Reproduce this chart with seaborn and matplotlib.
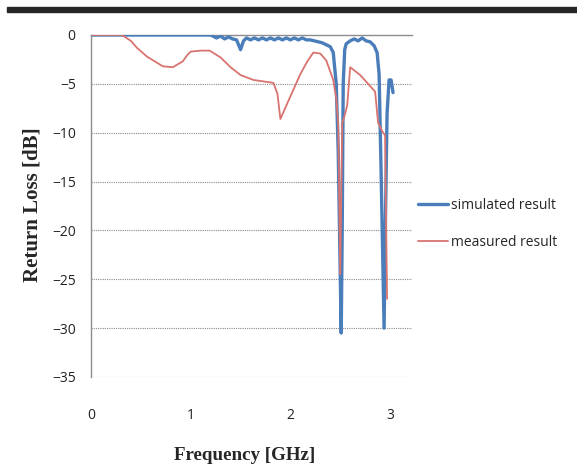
"""
Return loss of the antenna: simulated vs. measured S11 over frequency.
"""
import numpy as np
import pandas as pd
import matplotlib
matplotlib.use("Agg")
import matplotlib.pyplot as plt
import seaborn as sns
from matplotlib.patches import Rectangle

# simulated result (GHz, dB)
sim_freq = [0.0, 0.5, 1.0, 1.20, 1.26, 1.30, 1.34, 1.38, 1.42, 1.46, 1.50, 1.53,
            1.56, 1.60, 1.64, 1.68, 1.72, 1.76, 1.80, 1.84, 1.88, 1.92, 1.96,
            2.00, 2.04, 2.08, 2.12, 2.16, 2.20, 2.24, 2.28, 2.32, 2.36, 2.40,
            2.43, 2.46, 2.48, 2.51, 2.52, 2.53, 2.545, 2.56, 2.60, 2.64, 2.68,
            2.72, 2.76, 2.80, 2.84, 2.87, 2.89, 2.91, 2.94, 2.955, 2.97, 2.99,
            3.01, 3.03]
sim_db = [0, 0, 0, 0, -0.3, -0.1, -0.4, -0.2, -0.4, -0.5, -1.5, -0.6,
          -0.3, -0.5, -0.3, -0.5, -0.3, -0.5, -0.3, -0.5, -0.3, -0.5, -0.3,
          -0.5, -0.3, -0.5, -0.3, -0.5, -0.5, -0.6, -0.7, -0.8, -1.0, -1.2,
          -1.8, -5.0, -12.0, -30.5, -20.0, -5.0, -1.5, -0.9, -0.6, -0.4, -0.6,
          -0.3, -0.6, -0.7, -1.1, -1.8, -4.0, -14.0, -30.0, -18.0, -8.0, -4.6,
          -4.6, -5.9]

# measured result (GHz, dB)
meas_freq = [0.0, 0.31, 0.40, 0.46, 0.56, 0.72, 0.82, 0.92, 0.97, 1.00, 1.10,
             1.19, 1.30, 1.40, 1.50, 1.63, 1.83, 1.87, 1.90, 1.96, 2.03, 2.10,
             2.17, 2.23, 2.30, 2.36, 2.43, 2.46, 2.48, 2.50, 2.52, 2.54, 2.57,
             2.60, 2.65, 2.70, 2.78, 2.85, 2.88, 2.92, 2.95, 2.97]
meas_db = [0, 0, -0.6, -1.3, -2.2, -3.2, -3.3, -2.7, -2.0, -1.7, -1.6,
           -1.6, -2.3, -3.3, -4.1, -4.6, -4.9, -6.0, -8.6, -7.2, -5.6, -4.0,
           -2.7, -1.8, -1.9, -2.6, -4.6, -6.5, -9.0, -24.5, -9.0, -8.4, -7.2,
           -3.3, -3.7, -4.1, -5.0, -5.8, -9.0, -9.8, -10.3, -27.0]

df = pd.concat([
    pd.DataFrame({"freq": sim_freq, "db": sim_db, "series": "simulated result"}),
    pd.DataFrame({"freq": meas_freq, "db": meas_db, "series": "measured result"}),
])

sns.set_style("white")
plt.rcParams["font.family"] = ["Open Sans", "DejaVu Sans"]

fig = plt.figure(figsize=(5.77, 4.72), dpi=100)
ax = fig.add_axes([91 / 577, 1 - 377 / 472, (412 - 91) / 577, (377 - 35) / 472])

palette = {"simulated result": "#4a7ebb", "measured result": "#d9736f"}
sns.lineplot(data=df, x="freq", y="db", hue="series", palette=palette,
             size="series", sizes={"simulated result": 2.4, "measured result": 1.3},
             estimator=None, sort=False, ax=ax)

ax.set_xlim(0, 3.22)
ax.set_ylim(-35, 0)
ax.set_xticks([0, 1, 2, 3])
ax.set_yticks(np.arange(-35, 1, 5))
ax.tick_params(axis="both", length=0, labelsize=10, colors="#222222")
ax.tick_params(axis="x", pad=22)
ax.tick_params(axis="y", pad=11)

for y in range(-35, 0, 5):
    ax.axhline(y, color="#8a8a8a", linestyle=(0, (1, 1)), linewidth=0.8, zorder=0)

for side in ["right", "bottom"]:
    ax.spines[side].set_visible(False)
for side in ["top", "left"]:
    ax.spines[side].set_color("#8c8c8c")
    ax.spines[side].set_linewidth(1.0)
ax.spines["top"].set_zorder(0)

ax.set_xlabel("")
ax.set_ylabel("")
fig.text(245 / 577, 1 - 456 / 472, "Frequency [GHz]", ha="center", va="center",
         family="Liberation Serif", fontweight="bold", fontsize=13.7)
fig.text(33 / 577, 1 - 205 / 472, "Return Loss [dB]", ha="center", va="center",
         rotation=90, family="Liberation Serif", fontweight="bold", fontsize=15)

handles, labels = ax.get_legend_handles_labels()
ax.legend(handles, labels, loc="center left", bbox_to_anchor=(1.0, 0.447),
          frameon=False, fontsize=10, handlelength=2.2, handletextpad=0.2,
          labelspacing=1.6, borderaxespad=0)

# dark bar across the top of the figure
fig.patches.append(Rectangle((7 / 577, 1 - 12 / 472), 1, 5 / 472,
                             transform=fig.transFigure, color="#262626"))

fig.savefig("out.png", dpi=100)
